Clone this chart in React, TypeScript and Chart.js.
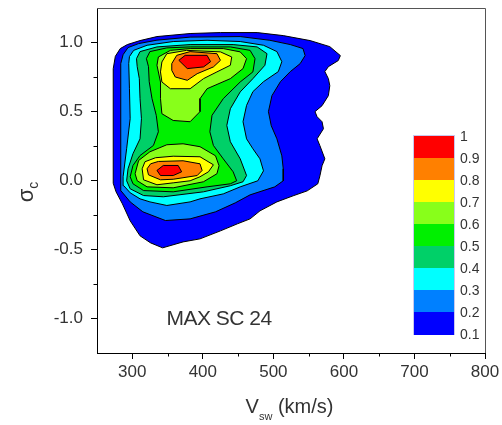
import React, { useEffect, useRef } from 'react';
import { Chart, registerables } from 'chart.js';

Chart.register(...registerables);

// ---------- axis settings ----------
const X_MIN = 250;
const X_MAX = 800;
const Y_MIN = -1.25;
const Y_MAX = 1.25;
const X_TICKS = [300, 400, 500, 600, 700, 800];
const Y_TICKS = [-1.0, -0.5, 0.0, 0.5, 1.0];
const X_MINOR = [350, 450, 550, 650, 750];
const Y_MINOR = [-0.75, -0.25, 0.25, 0.75];

// ---------- contour levels ----------
const LEVELS = [0.1, 0.2, 0.3, 0.4, 0.5, 0.6, 0.7, 0.8, 0.9];
const LEVEL_COLORS = ['#0000FF', '#0080FF', '#00FFFF', '#00D068', '#00F000', '#88FF1A', '#FFFF00', '#FF8000', '#FF0000'];
const CBAR_LABELS = ['1', '0.9', '0.8', '0.7', '0.6', '0.5', '0.4', '0.3', '0.2', '0.1'];
const ANNOTATION = 'MAX SC 24';

// contour polygons: [Vsw (km/s), sigma_c]
const contour01 = [
  [273, -0.02], [273, 0.45], [273, 0.81], [276, 0.9], [283, 0.956], [293, 0.985], [311, 1.014], [335, 1.043],
  [382, 1.065], [425, 1.072], [477, 1.072], [514, 1.05], [552, 1.014], [580, 0.97], [595, 0.905], [592, 0.869],
  [578, 0.825], [573, 0.789], [578, 0.738], [580, 0.687], [578, 0.615], [569, 0.542], [559, 0.499], [562, 0.462],
  [569, 0.426], [571, 0.375], [562, 0.302], [566, 0.252], [573, 0.157], [569, 0.107], [566, 0.034], [563, -0.024],
  [548, -0.075], [528, -0.111], [505, -0.155], [481, -0.22], [467, -0.278], [449, -0.314], [425, -0.365],
  [396, -0.423], [372, -0.445], [343, -0.488], [326, -0.452], [311, -0.401], [297, -0.292], [286, -0.169], [277, -0.082],
];
const contour02 = [
  [284, -0.075], [283, 0.012], [284, 0.448], [284, 0.847], [287, 0.912], [294, 0.963], [309, 0.992], [335, 1.017],
  [382, 1.039], [453, 1.043], [495, 1.016], [524, 0.985], [542, 0.956], [545, 0.905], [538, 0.847], [524, 0.789],
  [510, 0.716], [498, 0.615], [493, 0.499], [497, 0.397], [505, 0.302], [512, 0.179], [514, 0.085], [514, -0.002],
  [502, -0.046], [467, -0.104], [446, -0.162], [418, -0.227], [382, -0.278], [347, -0.29], [315, -0.227], [297, -0.155],
];
const contour03 = [
  [288, -0.038], [287, 0.027], [292, 0.23], [297, 0.448], [296, 0.665], [295, 0.847], [296, 0.898], [302, 0.943],
  [321, 0.98], [358, 1.007], [406, 1.016], [453, 1.007], [486, 0.98], [505, 0.934], [512, 0.861], [507, 0.789],
  [486, 0.716], [471, 0.644], [462, 0.544], [457, 0.426], [462, 0.302], [471, 0.23], [481, 0.157], [486, 0.07],
  [478, -0.002], [453, -0.046], [429, -0.097], [396, -0.133], [382, -0.155], [349, -0.181], [325, -0.155],
  [311, -0.133], [297, -0.089],
];
const contour04 = [
  [306, 0.883], [311, 0.934], [335, 0.968], [382, 0.985], [443, 0.985], [477, 0.968], [491, 0.919], [488, 0.835],
  [471, 0.738], [453, 0.642], [439, 0.52], [434, 0.399], [439, 0.281], [453, 0.157], [462, 0.036], [457, -0.009],
  [439, -0.038], [401, -0.082], [344, -0.118], [316, -0.109], [297, -0.06], [292, -0.002], [294, 0.085],
  [301, 0.194], [311, 0.302], [313, 0.448], [311, 0.593], [310, 0.738], [307, 0.825],
];
const contour05 = [
  [320, 0.883], [325, 0.934], [349, 0.961], [382, 0.968], [439, 0.968], [467, 0.943], [474, 0.883], [471, 0.787],
  [453, 0.714], [429, 0.593], [413, 0.472], [410, 0.353], [415, 0.254], [429, 0.157], [443, 0.063], [448, -0.002],
  [439, -0.024], [406, -0.046], [358, -0.082], [316, -0.073], [301, -0.024], [297, 0.027], [301, 0.109],
  [311, 0.181], [330, 0.254], [337, 0.353], [334, 0.472], [328, 0.593], [324, 0.716], [323, 0.825],
];
const contour06Upper = [
  [335, 0.835], [337, 0.895], [354, 0.943], [382, 0.956], [429, 0.956], [453, 0.932], [462, 0.883], [457, 0.811],
  [439, 0.738], [406, 0.665], [396, 0.593], [396, 0.499], [382, 0.426], [358, 0.435], [342, 0.484], [340, 0.593], [340, 0.714],
];
const contour06Lower = [
  [304, 0.049], [309, 0.145], [325, 0.208], [349, 0.259], [372, 0.266], [396, 0.245], [418, 0.179], [423, 0.107],
  [420, 0.049], [401, -0.009], [358, -0.053], [321, -0.046], [307, -0.002],
];
const contour07Upper = [
  [340, 0.787], [342, 0.859], [349, 0.919], [377, 0.943], [425, 0.932], [441, 0.895], [439, 0.835], [420, 0.787],
  [401, 0.738], [382, 0.665], [354, 0.665], [342, 0.714],
];
const contour07Lower = [
  [314, 0.085], [318, 0.136], [333, 0.165], [358, 0.176], [396, 0.172], [415, 0.114], [408, 0.063], [396, 0.027],
  [382, -0.002], [358, -0.017], [335, -0.031], [316, 0.005],
];
const contour08Upper = [
  [356, 0.847], [363, 0.907], [382, 0.934], [420, 0.919], [425, 0.871], [415, 0.823], [392, 0.774], [378, 0.726],
  [361, 0.75], [356, 0.798],
];
const contour08Lower = [
  [321, 0.085], [326, 0.121], [337, 0.138], [372, 0.143], [396, 0.121], [399, 0.073], [392, 0.036], [358, 0.009],
  [340, 0.005], [323, 0.041],
];
const contour09Upper = [[366, 0.871], [375, 0.907], [406, 0.907], [411, 0.861], [401, 0.823], [378, 0.811]];
const contour09Lower = [[335, 0.073], [344, 0.109], [365, 0.109], [370, 0.063], [358, 0.036], [340, 0.036]];

const POLYGONS: { level: number; pts: number[][] }[] = [
  { level: 0, pts: contour01 },
  { level: 1, pts: contour02 },
  { level: 2, pts: contour03 },
  { level: 3, pts: contour04 },
  { level: 4, pts: contour05 },
  { level: 5, pts: contour06Upper },
  { level: 5, pts: contour06Lower },
  { level: 6, pts: contour07Upper },
  { level: 6, pts: contour07Lower },
  { level: 7, pts: contour08Upper },
  { level: 7, pts: contour08Lower },
  { level: 8, pts: contour09Upper },
  { level: 8, pts: contour09Lower },
];

const FONT = '"Liberation Sans", Arial, sans-serif';
const TEXT_COLOR = '#333';

const framePlugin = {
  id: 'frameAndMinor',
  afterDraw(chart: any) {
    const { ctx, chartArea, scales } = chart;
    const { left, right, top, bottom } = chartArea;
    ctx.save();
    ctx.lineWidth = 1;
    ctx.strokeStyle = '#555';
    ctx.beginPath();
    ctx.moveTo(left, Math.round(top) + 0.5);
    ctx.lineTo(Math.round(right) + 0.5, Math.round(top) + 0.5);
    ctx.lineTo(Math.round(right) + 0.5, bottom);
    ctx.stroke();
    ctx.strokeStyle = '#000';
    ctx.beginPath();
    for (const v of X_MINOR) {
      const px = Math.round(scales.x.getPixelForValue(v)) + 0.5;
      ctx.moveTo(px, bottom);
      ctx.lineTo(px, bottom + 3.5);
    }
    for (const v of Y_MINOR) {
      const py = Math.round(scales.y.getPixelForValue(v)) + 0.5;
      ctx.moveTo(left, py);
      ctx.lineTo(left - 3.5, py);
    }
    ctx.stroke();
    ctx.restore();
  },
};

function ContourChart() {
  const ref = useRef<HTMLCanvasElement | null>(null);
  useEffect(() => {
    if (!ref.current) return;
    const datasets = POLYGONS.map(({ level, pts }) => ({
      label: String(LEVELS[level]),
      data: [...pts, pts[0]].map(([x, y]) => ({ x, y })),
      showLine: true,
      fill: 'shape',
      backgroundColor: LEVEL_COLORS[level],
      borderColor: '#000',
      borderWidth: 1,
      pointRadius: 0,
      pointHoverRadius: 0,
      tension: 0,
      order: 20 - level,
    }));
    const chart = new Chart(ref.current, {
      type: 'scatter',
      data: { datasets } as any,
      options: {
        animation: false,
        responsive: false,
        events: [],
        layout: { padding: { left: 0, right: 17, top: 8, bottom: 0 } },
        plugins: { legend: { display: false }, tooltip: { enabled: false } },
        scales: {
          x: {
            type: 'linear',
            min: X_MIN,
            max: X_MAX,
            afterFit: (s: any) => { s.height = 72; s.paddingLeft = 0; s.paddingRight = 0; },
            afterBuildTicks: (s: any) => { s.ticks = X_TICKS.map((value) => ({ value })); },
            border: { color: '#000', width: 1 },
            grid: { drawOnChartArea: false, tickLength: 6, color: '#000' },
            ticks: {
              autoSkip: false,
              maxRotation: 0,
              padding: 3,
              color: TEXT_COLOR,
              font: { family: FONT, size: 17 },
              callback: (v: any) => String(v),
            },
          },
          y: {
            type: 'linear',
            min: Y_MIN,
            max: Y_MAX,
            afterFit: (s: any) => { s.width = 97; s.paddingTop = 0; s.paddingBottom = 0; },
            afterBuildTicks: (s: any) => { s.ticks = Y_TICKS.map((value) => ({ value })); },
            border: { color: '#000', width: 1 },
            grid: { drawOnChartArea: false, tickLength: 6, color: '#000' },
            ticks: {
              autoSkip: false,
              padding: 8,
              color: TEXT_COLOR,
              font: { family: FONT, size: 17 },
              callback: (v: any) => (Math.abs(Number(v)) < 1e-9 ? '0.0' : Number(v).toFixed(1)),
            },
          },
        },
      } as any,
      plugins: [framePlugin],
    });
    return () => chart.destroy();
  }, []);
  return <canvas ref={ref} width={502} height={425} style={{ display: 'block', width: 502, height: 425 }} />;
}

export default function App() {
  const cbarTop = 136;
  const cbarHeight = 198;
  const band = cbarHeight / LEVELS.length;
  const bandColors = [...LEVEL_COLORS].reverse();
  return (
    <div style={{ position: 'absolute', left: 0, top: 0, width: 502, height: 425, background: '#fff', fontFamily: FONT, color: TEXT_COLOR }}>
      <ContourChart />
      {/* y-axis title */}
      <div
        style={{
          position: 'absolute', left: 25.5 - 40, top: 191.5 - 15, width: 80, height: 30, lineHeight: '30px',
          textAlign: 'center', transform: 'rotate(-90deg)', fontSize: 22, whiteSpace: 'nowrap',
        }}
      >
        σ<span style={{ fontSize: 14, position: 'relative', top: 5 }}>c</span>
      </div>
      {/* x-axis title */}
      <div
        style={{
          position: 'absolute', left: 189.5, top: 394, width: 200, height: 24, lineHeight: '24px',
          textAlign: 'center', fontSize: 20, whiteSpace: 'nowrap',
        }}
      >
        V<span style={{ fontSize: 11, position: 'relative', top: 7 }}>sw</span> (km/s)
      </div>
      {/* annotation */}
      <div
        style={{
          position: 'absolute', left: 119, top: 305.5, width: 200, height: 24, lineHeight: '24px',
          textAlign: 'center', fontSize: 21, letterSpacing: -0.5, whiteSpace: 'nowrap',
        }}
      >
        {ANNOTATION}
      </div>
      {/* colour bar */}
      <div style={{ position: 'absolute', left: 414, top: cbarTop, width: 40, height: cbarHeight, boxShadow: '0 0 0 1px #c8c8ee' }}>
        {bandColors.map((c, i) => (
          <div key={i} style={{ position: 'absolute', left: 0, top: i * band, width: 40, height: band + 0.5, background: c }} />
        ))}
      </div>
      {CBAR_LABELS.map((t, i) => (
        <div
          key={t}
          style={{
            position: 'absolute', left: 460, top: cbarTop + i * band - 8, height: 16, lineHeight: '16px',
            fontSize: 14, whiteSpace: 'nowrap',
          }}
        >
          {t}
        </div>
      ))}
    </div>
  );
}
